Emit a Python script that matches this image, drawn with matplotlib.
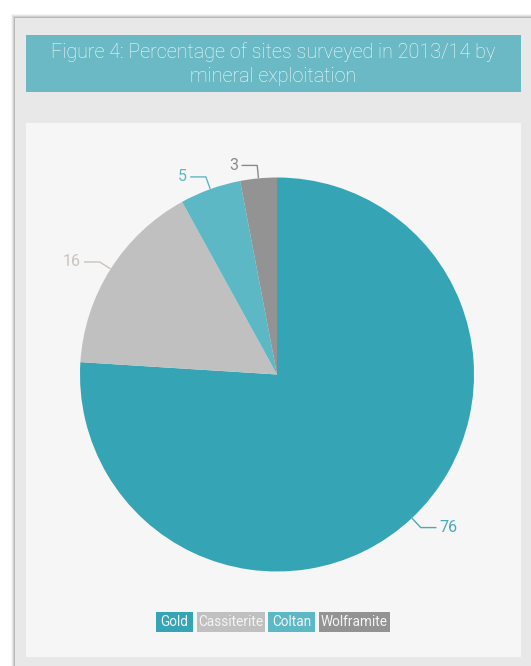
import numpy as np
import matplotlib
matplotlib.use("Agg")
import matplotlib.pyplot as plt
from matplotlib.patches import Rectangle

categories = ["Gold", "Cassiterite", "Coltan", "Wolframite"]
values = [76, 16, 5, 3]
colors = ["#35a5b5", "#c0c0c0", "#5cb8c5", "#939393"]
label_colors = ["#4aa9b8", "#cbc2bb", "#5cb8c5", "#8a8a8a"]
title = "Figure 4: Percentage of sites surveyed in 2013/14 by\nmineral exploitation"

W, H = 531, 666
fig = plt.figure(figsize=(W / 100, H / 100), dpi=100)
ax = fig.add_axes([0, 0, 1, 1])
fig.patch.set_facecolor("white")

narrow = ["Roboto", "DejaVu Sans"]

# panel shadow
for i, a in enumerate([0.04, 0.06, 0.09, 0.12]):
    d = 4 - i
    ax.add_patch(Rectangle((15 - d, 18 - d), W, H, facecolor="black", alpha=a, lw=0, zorder=0))
ax.add_patch(Rectangle((15, 18), W, H, facecolor="#e8e8e8", lw=0, zorder=1))
# title banner
ax.add_patch(Rectangle((26, 35), 495, 57, facecolor="#6bb9c4", lw=0, zorder=2))
ax.text(273.5, 64, title, ha="center", va="center", fontsize=14.2, color="#f4fbfc",
        family="Roboto", fontweight="light", linespacing=1.3, zorder=3)
# inner panel
ax.add_patch(Rectangle((26, 123), 495, 534, facecolor="#f6f6f6", lw=0, zorder=2))

cx, cy, R = 277, 374.5, 197
# y axis is inverted (pixel coords): screen-clockwise from top == data-counterclockwise from -90
wedges, _ = ax.pie(values, colors=colors, startangle=-90, counterclock=True,
                   center=(cx, cy), radius=R, frame=True,
                   wedgeprops=dict(linewidth=0))
for w in wedges:
    w.set_zorder(4)
ax.set_xlim(0, W)
ax.set_ylim(H, 0)
ax.axis("off")
ax.set_aspect("equal")

for w, v, lc in zip(wedges, values, label_colors):
    th = np.deg2rad((w.theta1 + w.theta2) / 2)
    x0, y0 = cx + (R + 1) * np.cos(th), cy + (R + 1) * np.sin(th)
    x1, y1 = cx + (R + 13) * np.cos(th), cy + (R + 13) * np.sin(th)
    sgn = 1 if np.cos(th) >= 0 else -1
    x2 = x1 + sgn * 15
    ax.plot([x0, x1, x2], [y0, y1, y1], color=lc, lw=1, zorder=5)
    ax.text(x2 + sgn * 4, y1, str(v), ha="left" if sgn > 0 else "right", va="center",
            fontsize=11.5, color=lc, family=narrow, zorder=5)

# legend boxes
boxes = [(156, 37), (197, 68), (268, 47), (319, 71)]
for (bx, bw), name, c in zip(boxes, categories, colors):
    ax.add_patch(Rectangle((bx, 612), bw, 20, facecolor=c, lw=0, zorder=5))
    ax.text(bx + bw / 2, 622.5, name, ha="center", va="center", fontsize=9.8,
            color="#f4f4f4", family=narrow, zorder=6)

fig.savefig("out.png", dpi=100)
